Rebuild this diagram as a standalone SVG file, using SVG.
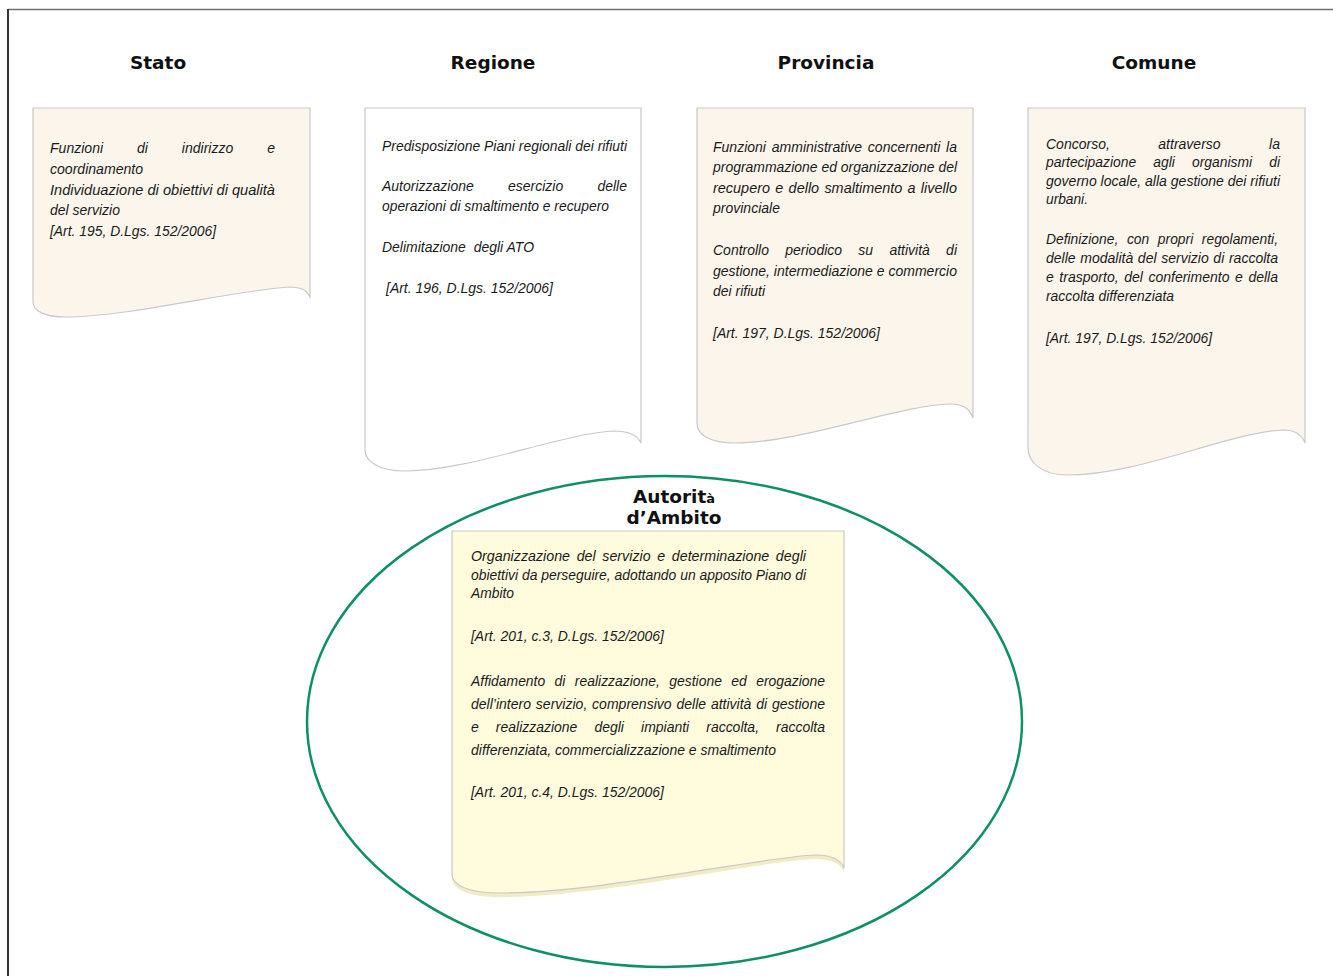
<svg xmlns="http://www.w3.org/2000/svg" width="1333" height="976" viewBox="0 0 1333 976">
<style>
.title{font-family:"DejaVu Sans",Verdana,sans-serif;font-weight:bold;font-size:18.5px;fill:#111;text-anchor:middle}
.t{font-family:"Liberation Sans",Arial,sans-serif;font-style:italic;font-size:15px;fill:#1a1a1a}
.doc{stroke:#c9c9c9;stroke-width:1.2}
.beige{fill:#fcf5ec}
.white{fill:#ffffff}
.yellow{fill:#fffbdc}
.pre{white-space:pre}
</style>
<rect width="1333" height="976" fill="#ffffff"/>
<g id="frame">
<line x1="8" y1="9.5" x2="1333" y2="9.5" stroke="#707070" stroke-width="1.5"/>
<line x1="8" y1="9" x2="8" y2="976" stroke="#333" stroke-width="2"/>
</g>
<g id="connectors"></g>

<g id="stato">
<text class="title" x="158" y="69">Stato</text>
<path class="doc beige" d="M33,108 H310 V298 C308,291 302,287 290,287 C240,289 130,317 65,317 C45,317 33,311 33,302 Z"/>
<text class="t" x="50" y="153" word-spacing="32" textLength="225" lengthAdjust="spacingAndGlyphs">Funzioni di indirizzo e</text>
<text class="t" x="50" y="174" textLength="93" lengthAdjust="spacingAndGlyphs">coordinamento</text>
<text class="t" x="50" y="195" textLength="225" lengthAdjust="spacingAndGlyphs">Individuazione di obiettivi di qualità</text>
<text class="t" x="50" y="215" textLength="70" lengthAdjust="spacingAndGlyphs">del servizio</text>
<text class="t" x="50" y="236" textLength="166" lengthAdjust="spacingAndGlyphs">[Art. 195, D.Lgs. 152/2006]</text>
</g>

<g id="regione">
<text class="title" x="493" y="69">Regione</text>
<path class="doc white" d="M365,108 H641 V443 C638,436 630,431 613,431 C560,434 470,471 405,471 C380,471 365,462 365,450 Z"/>
<text class="t" x="382" y="151" textLength="245" lengthAdjust="spacingAndGlyphs">Predisposizione Piani regionali dei rifiuti</text>
<text class="t" x="382" y="191" word-spacing="32.5" textLength="245" lengthAdjust="spacingAndGlyphs">Autorizzazione esercizio delle</text>
<text class="t" x="382" y="211" textLength="227" lengthAdjust="spacingAndGlyphs">operazioni di smaltimento e recupero</text>
<text class="t pre" x="382" y="252" textLength="152" lengthAdjust="spacingAndGlyphs">Delimitazione  degli ATO</text>
<text class="t" x="386" y="293" textLength="167" lengthAdjust="spacingAndGlyphs">[Art. 196, D.Lgs. 152/2006]</text>
</g>

<g id="provincia">
<text class="title" x="826" y="69">Provincia</text>
<path class="doc beige" d="M697,108 H973 V418 C970,410 965,404 950,404 C900,405 800,443 735,443 C710,443 697,435 697,423 Z"/>
<text class="t" x="713" y="152" word-spacing="2" textLength="244" lengthAdjust="spacingAndGlyphs">Funzioni amministrative concernenti la</text>
<text class="t" x="713" y="172" textLength="244" lengthAdjust="spacingAndGlyphs">programmazione ed organizzazione del</text>
<text class="t" x="713" y="193" word-spacing="1.3" textLength="244" lengthAdjust="spacingAndGlyphs">recupero e dello smaltimento a livello</text>
<text class="t" x="713" y="213" textLength="67" lengthAdjust="spacingAndGlyphs">provinciale</text>
<text class="t" x="713" y="255" word-spacing="13.3" textLength="244" lengthAdjust="spacingAndGlyphs">Controllo periodico su attività di</text>
<text class="t" x="713" y="276" textLength="244" lengthAdjust="spacingAndGlyphs">gestione, intermediazione e commercio</text>
<text class="t" x="713" y="296" textLength="52" lengthAdjust="spacingAndGlyphs">dei rifiuti</text>
<text class="t" x="713" y="338" textLength="167" lengthAdjust="spacingAndGlyphs">[Art. 197, D.Lgs. 152/2006]</text>
</g>

<g id="comune">
<text class="title" x="1154" y="69">Comune</text>
<path class="doc beige" d="M1028,108 H1305 V443 C1302,435 1296,430 1283,430 C1230,432 1140,475 1067,475 C1043,475 1028,463 1028,448 Z"/>
<text class="t" x="1046" y="149" word-spacing="47.8" textLength="234" lengthAdjust="spacingAndGlyphs">Concorso, attraverso la</text>
<text class="t" x="1046" y="167" word-spacing="14.4" textLength="234" lengthAdjust="spacingAndGlyphs">partecipazione agli organismi di</text>
<text class="t" x="1046" y="186" textLength="234" lengthAdjust="spacingAndGlyphs">governo locale, alla gestione dei rifiuti</text>
<text class="t" x="1046" y="204" textLength="42" lengthAdjust="spacingAndGlyphs">urbani.</text>
<text class="t" x="1046" y="244" word-spacing="5.2" textLength="232" lengthAdjust="spacingAndGlyphs">Definizione, con propri regolamenti,</text>
<text class="t" x="1046" y="263" word-spacing="0.8" textLength="232" lengthAdjust="spacingAndGlyphs">delle modalità del servizio di raccolta</text>
<text class="t" x="1046" y="282" word-spacing="1.8" textLength="232" lengthAdjust="spacingAndGlyphs">e trasporto, del conferimento e della</text>
<text class="t" x="1046" y="301" textLength="128" lengthAdjust="spacingAndGlyphs">raccolta differenziata</text>
<text class="t" x="1046" y="343" textLength="166" lengthAdjust="spacingAndGlyphs">[Art. 197, D.Lgs. 152/2006]</text>
</g>

<g id="autorita">
<ellipse cx="664.5" cy="721.5" rx="357.5" ry="245.5" fill="none" stroke="#0e8f66" stroke-width="2.5"/>
<text class="title" x="674" y="503">Autorit<tspan font-size="13">à</tspan></text>
<text class="title" x="674" y="524">d’Ambito</text>
<path d="M452,540 H844 V872 C841,864 832,859 815,859 C760,861 600,897 500,897 C470,897 452,890 452,878 Z" fill="#f1ebc6"/>
<path class="doc yellow" d="M452,531 H844 V868 C841,860 832,855 815,855 C760,857 600,893 500,893 C470,893 452,886 452,874 Z"/>
<text class="t" x="471" y="561" word-spacing="2.8" textLength="335" lengthAdjust="spacingAndGlyphs">Organizzazione del servizio e determinazione degli</text>
<text class="t" x="471" y="580" textLength="335" lengthAdjust="spacingAndGlyphs">obiettivi da perseguire, adottando un apposito Piano di</text>
<text class="t" x="471" y="598" textLength="43" lengthAdjust="spacingAndGlyphs">Ambito</text>
<text class="t" x="471" y="641" textLength="193" lengthAdjust="spacingAndGlyphs">[Art. 201, c.3, D.Lgs. 152/2006]</text>
<text class="t" x="471" y="686" word-spacing="6" textLength="354" lengthAdjust="spacingAndGlyphs">Affidamento di realizzazione, gestione ed erogazione</text>
<text class="t" x="471" y="709" word-spacing="1" textLength="354" lengthAdjust="spacingAndGlyphs">dell’intero servizio, comprensivo delle attività di gestione</text>
<text class="t" x="471" y="732" word-spacing="14.2" textLength="354" lengthAdjust="spacingAndGlyphs">e realizzazione degli impianti raccolta, raccolta</text>
<text class="t" x="471" y="755" textLength="305" lengthAdjust="spacingAndGlyphs">differenziata, commercializzazione e smaltimento</text>
<text class="t" x="471" y="797" textLength="193" lengthAdjust="spacingAndGlyphs">[Art. 201, c.4, D.Lgs. 152/2006]</text>
</g>
</svg>
